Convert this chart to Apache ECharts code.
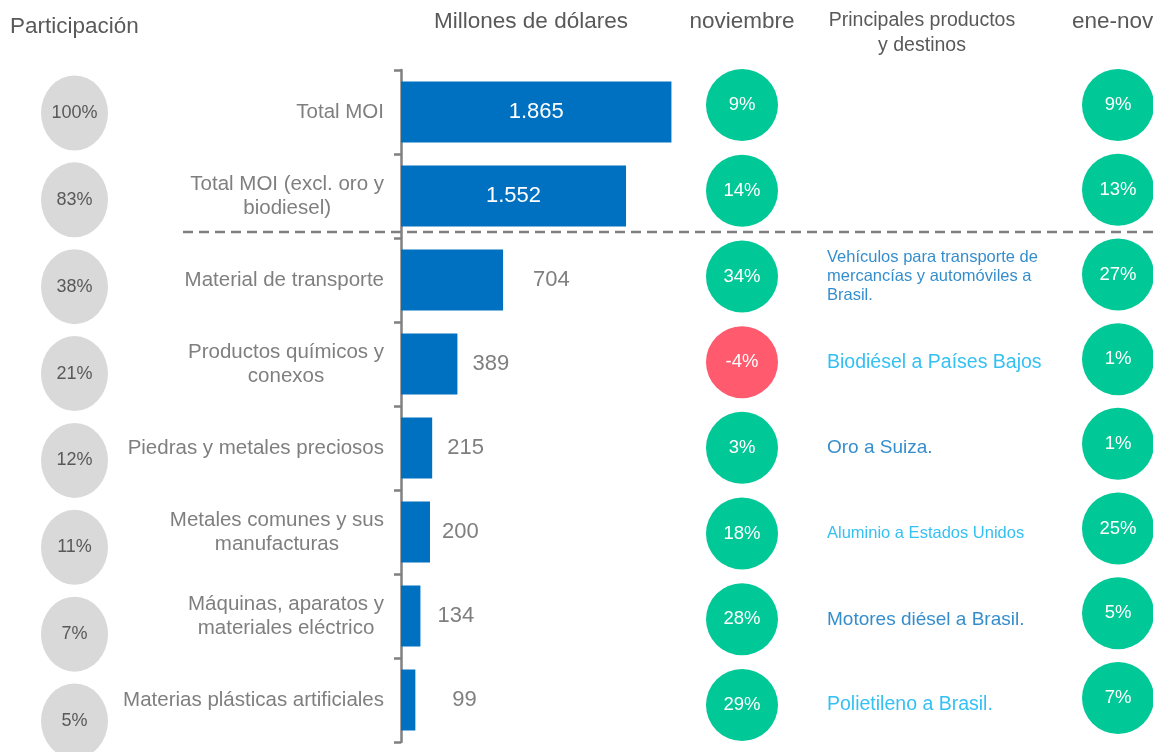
<!DOCTYPE html>
<html>
<head>
<meta charset="utf-8">
<script src="https://cdn.jsdelivr.net/npm/echarts@6/dist/echarts.min.js"></script>
<style>
  html, body { margin: 0; padding: 0; background: #fff; }
  #chart { width: 1153px; height: 752px; }
</style>
</head>
<body>
<div id="chart"></div>
<script>
// datos
var categorias = ['Total MOI', 'Total MOI (excl. oro y\nbiodiesel)', 'Material de transporte',
    'Productos químicos y\nconexos', 'Piedras y metales preciosos', 'Metales comunes y sus\nmanufacturas',
    'Máquinas, aparatos y\nmateriales eléctrico', 'Materias plásticas artificiales'];
var millones = [1865, 1552, 704, 389, 215, 200, 134, 99];
var participacion = [100, 83, 38, 21, 12, 11, 7, 5];
var varNoviembre = [9, 14, 34, -4, 3, 18, 28, 29];
var varEneNov = [9, 13, 27, 1, 1, 25, 5, 7];
var productos = ['', '', 'Vehículos para transporte de\nmercancías y automóviles a\nBrasil.',
    'Biodiésel a Países Bajos', 'Oro a Suiza.', 'Aluminio a Estados Unidos',
    'Motores diésel a Brasil.', 'Polietileno a Brasil.'];

// estilos (no son datos)
var estiloProd = ['osc', 'osc', 'oscPeq', 'claro', 'osc', 'claroPeq', 'osc', 'claro'];
var separacion = [0, 0, 30, 15, 15, 12, 17, 37];
var rich = {
    osc: { color: '#0070C0', fontSize: 19, lineHeight: 22 },
    oscPeq: { color: '#0070C0', fontSize: 16.5, lineHeight: 19 },
    claro: { color: '#00B0F0', fontSize: 19.5, lineHeight: 22 },
    claroPeq: { color: '#00B0F0', fontSize: 16.5, lineHeight: 20 }
};

var FONT = 'Liberation Sans, Arial, sans-serif';
var fmtMiles = function (v) {
    return String(v).replace(/\B(?=(\d{3})+(?!\d))/g, '.');
};

var chart = echarts.init(document.getElementById('chart'));

function catAxis(grid) {
    return { gridIndex: grid, type: 'category', data: categorias, inverse: true, boundaryGap: false, show: false };
}
function unitAxis(grid) {
    return { gridIndex: grid, type: 'value', min: 0, max: 1, show: false };
}

var option = {
    animation: false,
    textStyle: { fontFamily: FONT },
    grid: [
        { left: 401, top: 70, width: 290, height: 672 },      // barras
        { left: 41, top: 113, width: 67, height: 608 },       // participacion
        { left: 706, top: 105, width: 72, height: 600 },      // noviembre
        { left: 827, top: 105, width: 300, height: 600 },     // productos
        { left: 1083, top: 105, width: 72, height: 593 }      // ene-nov
    ],
    xAxis: [
        { gridIndex: 0, type: 'value', min: 0, max: 2000, show: false },
        unitAxis(1), unitAxis(2), unitAxis(3), unitAxis(4)
    ],
    yAxis: [
        {
            gridIndex: 0, type: 'category', data: categorias, inverse: true,
            axisLine: { lineStyle: { color: '#808080', width: 2.5 } },
            axisTick: { show: true, length: 7, lineStyle: { color: '#808080', width: 2.5 } },
            axisLabel: {
                margin: 17, color: '#7f7f7f', fontSize: 20.5, lineHeight: 24,
                formatter: function (v) {
                    return v.split('\n').map(function (s) { return '{c|' + s + '}'; }).join('\n');
                },
                rich: { c: { align: 'center', color: '#7f7f7f', fontSize: 20.5, lineHeight: 24 } }
            }
        },
        catAxis(1), catAxis(2), catAxis(3), catAxis(4)
    ],
    graphic: [
        { type: 'text', x: 10, y: 27, style: { text: 'Participación', fill: '#595959', font: '22.5px ' + FONT, verticalAlign: 'middle' } },
        { type: 'text', x: 531, y: 22, style: { text: 'Millones de dólares', fill: '#595959', font: '22.5px ' + FONT, align: 'center', verticalAlign: 'middle' } },
        { type: 'text', x: 742, y: 22, style: { text: 'noviembre', fill: '#595959', font: '22.5px ' + FONT, align: 'center', verticalAlign: 'middle' } },
        { type: 'text', x: 922, y: 33, style: { text: 'Principales productos\ny destinos', fill: '#595959', font: '19.5px ' + FONT, lineHeight: 25, align: 'center', verticalAlign: 'middle' } },
        { type: 'text', x: 1072, y: 22, style: { text: 'ene-nov', fill: '#595959', font: '22.5px ' + FONT, verticalAlign: 'middle' } },
        { type: 'line', shape: { x1: 183, y1: 232, x2: 1153, y2: 232 }, style: { stroke: '#7f7f7f', lineWidth: 2.5, lineDash: [10, 6] } }
    ],
    series: [
        {
            type: 'bar', xAxisIndex: 0, yAxisIndex: 0, barWidth: 61,
            itemStyle: { color: '#0070C0' },
            data: millones.map(function (v, i) {
                var dentro = i < 2;
                return {
                    value: v,
                    label: {
                        show: true,
                        position: dentro ? 'inside' : 'right',
                        distance: separacion[i],
                        color: dentro ? '#ffffff' : '#7f7f7f',
                        fontSize: 22,
                        formatter: function (p) { return fmtMiles(p.value); }
                    }
                };
            })
        },
        {
            type: 'scatter', xAxisIndex: 1, yAxisIndex: 1, symbol: 'circle', symbolSize: [67, 75],
            itemStyle: { color: '#D9D9D9', opacity: 1 },
            label: { show: true, position: 'inside', color: '#595959', fontSize: 18,
                formatter: function (p) { return participacion[p.dataIndex] + '%'; } },
            data: participacion.map(function (v, i) { return [0.5, i]; })
        },
        {
            type: 'scatter', xAxisIndex: 2, yAxisIndex: 2, symbol: 'circle', symbolSize: 72,
            label: { show: true, position: 'inside', color: '#ffffff', fontSize: 18.5,
                formatter: function (p) { return varNoviembre[p.dataIndex] + '%'; } },
            data: varNoviembre.map(function (v, i) {
                return { value: [0.5, i], itemStyle: { color: v < 0 ? '#FF5A6E' : '#00C896', opacity: 1 } };
            })
        },
        {
            type: 'scatter', xAxisIndex: 3, yAxisIndex: 3, symbolSize: 0,
            label: {
                show: true, position: 'right', distance: 0, align: 'left', rich: rich,
                formatter: function (p) {
                    var t = productos[p.dataIndex];
                    if (!t) return '';
                    var k = estiloProd[p.dataIndex];
                    return t.split('\n').map(function (s) { return '{' + k + '|' + s + '}'; }).join('\n');
                }
            },
            data: productos.map(function (v, i) { return [0, i]; })
        },
        {
            type: 'scatter', xAxisIndex: 4, yAxisIndex: 4, symbol: 'circle', symbolSize: 72,
            itemStyle: { color: '#00C896', opacity: 1 },
            label: { show: true, position: 'inside', color: '#ffffff', fontSize: 18.5,
                formatter: function (p) { return varEneNov[p.dataIndex] + '%'; } },
            data: varEneNov.map(function (v, i) { return [0.5, i]; })
        }
    ]
};
chart.setOption(option);
</script>
</body>
</html>
